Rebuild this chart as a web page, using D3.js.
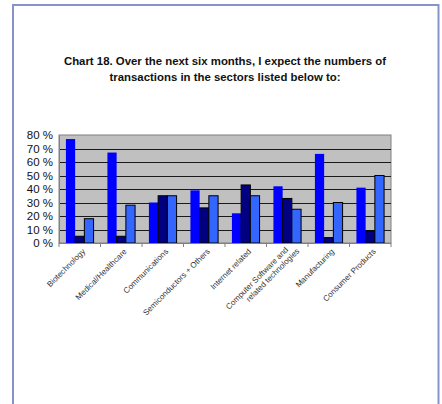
<!DOCTYPE html>
<html>
<head>
<meta charset="utf-8">
<script src="https://cdn.jsdelivr.net/npm/d3@7"></script>
<style>
  html, body { margin: 0; padding: 0; background: #fff; }
  svg { display: block; font-family: Arial, "Liberation Sans", sans-serif; }
</style>
</head>
<body>
<svg id="chart" width="442" height="404"></svg>
<script>
// Sector outlook survey: share of respondents expecting each direction
const categories = [
  "Biotechnology",
  "Medical/Healthcare",
  "Communications",
  "Semiconductors + Others",
  "Internet related",
  "Computer Software and\nrelated technologies",
  "Manufacturing",
  "Consumer Products"
];
const seriesNames = ["Series A", "Series B", "Series C"];
const seriesA = [77, 67, 30, 39, 22, 42, 66, 41];
const seriesB = [5, 5, 35, 26, 43, 33, 4, 9];
const seriesC = [18, 28, 35, 35, 35, 25, 30, 50];
const yTicks = [0, 10, 20, 30, 40, 50, 60, 70, 80];
const titleLines = [
  "Chart 18. Over the next six months, I expect the numbers of",
  "transactions in the sectors listed below to:"
];

const seriesValues = [seriesA, seriesB, seriesC];
const colors = ["#0000FF", "#000080", "#3366FF"];
const strokes = ["none", "#000", "#000"];

const svg = d3.select("#chart");

// outer frame
svg.append("rect")
  .attr("x", 13).attr("y", 5)
  .attr("width", 425.5).attr("height", 420)
  .attr("fill", "#fff")
  .attr("stroke", "#8595CC")
  .attr("stroke-width", 2);

// title
const title = svg.append("text")
  .attr("text-anchor", "middle")
  .attr("font-size", 11.4)
  .attr("font-weight", "bold")
  .attr("fill", "#111");
titleLines.forEach((t, i) => {
  title.append("tspan").attr("x", 225).attr("y", 65 + i * 16).text(t);
});

const plot = { left: 59, right: 391, top: 135, bottom: 243 };

const x = d3.scaleBand()
  .domain(categories)
  .range([plot.left, plot.right]);

// three bars per category, gap width 150% of a bar
const barW = x.bandwidth() / 4.5;
const xInner = d3.scaleBand()
  .domain(seriesNames)
  .range([barW * 0.75, barW * 3.75]);

const y = d3.scaleLinear()
  .domain([0, 80])
  .range([plot.bottom, plot.top]);

// plot background
svg.append("rect")
  .attr("x", plot.left).attr("y", plot.top)
  .attr("width", plot.right - plot.left)
  .attr("height", plot.bottom - plot.top)
  .attr("fill", "#C0C0C0")
  .attr("stroke", "#808080")
  .attr("stroke-width", 1);

// gridlines
svg.append("g")
  .selectAll("line")
  .data(yTicks.filter(d => d > 0 && d < 80))
  .join("line")
  .attr("x1", plot.left).attr("x2", plot.right)
  .attr("y1", d => Math.round(y(d)) + 0.5)
  .attr("y2", d => Math.round(y(d)) + 0.5)
  .attr("stroke", "#1a1a1a")
  .attr("stroke-width", 1);

// bars
const groups = svg.append("g")
  .selectAll("g")
  .data(categories)
  .join("g")
  .attr("transform", d => `translate(${x(d)},0)`);

groups.selectAll("rect")
  .data((d, ci) => seriesNames.map((s, si) => ({ s, si, v: seriesValues[si][ci] })))
  .join("rect")
  .attr("x", d => xInner(d.s))
  .attr("width", xInner.bandwidth())
  .attr("y", d => y(d.v))
  .attr("height", d => y(0) - y(d.v))
  .attr("fill", d => colors[d.si])
  .attr("stroke", d => strokes[d.si])
  .attr("stroke-width", 1);

// y axis
const yAxis = d3.axisLeft(y)
  .tickValues(yTicks)
  .tickSize(0)
  .tickPadding(6)
  .tickFormat(d => d + " %");
const gy = svg.append("g")
  .attr("transform", `translate(${plot.left},0)`)
  .call(yAxis);
gy.select(".domain").attr("stroke", "#808080");
gy.selectAll("text")
  .attr("font-size", 11.5)
  .attr("font-family", "Arial, 'Liberation Sans', sans-serif")
  .attr("fill", "#111");

// x axis line with boundary ticks
const gx = svg.append("g");
gx.append("line")
  .attr("x1", plot.left).attr("x2", plot.right)
  .attr("y1", plot.bottom + 0.5).attr("y2", plot.bottom + 0.5)
  .attr("stroke", "#808080");
gx.selectAll("line.tick")
  .data(categories.concat([null]))
  .join("line")
  .attr("class", "tick")
  .attr("x1", (d, i) => plot.left + i * x.step())
  .attr("x2", (d, i) => plot.left + i * x.step())
  .attr("y1", plot.bottom)
  .attr("y2", plot.bottom + 4)
  .attr("stroke", "#808080");

// rotated category labels
const labels = gx.selectAll("text.cat")
  .data(categories)
  .join("text")
  .attr("class", "cat")
  .attr("font-size", 8)
  .attr("fill", "#333")
  .attr("transform", d => `translate(${x(d) + x.bandwidth() / 2 + 4},${plot.bottom + 7}) rotate(-45)`);

labels.each(function(d) {
  const lines = d.split("\n");
  const t = d3.select(this);
  lines.forEach((ln, i) => {
    t.append("tspan")
      .attr("x", 0)
      .attr("dy", i === 0 ? (lines.length > 1 ? "-0.2em" : "0.35em") : "1.1em")
      .attr("text-anchor", "end")
      .text(ln);
  });
});
// two-line label: stagger the lines so the block is centred
labels.filter(d => d.includes("\n"))
  .selectAll("tspan")
  .attr("x", (d, i) => i === 0 ? -2 : 5);
</script>
</body>
</html>
